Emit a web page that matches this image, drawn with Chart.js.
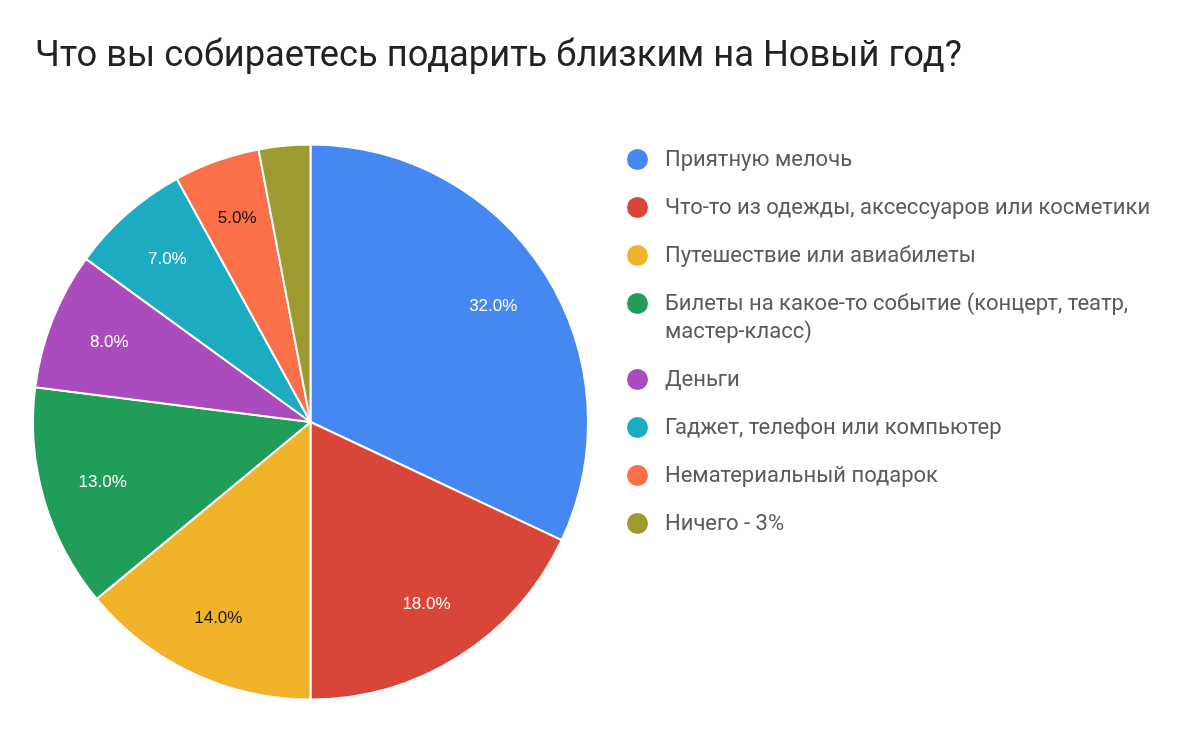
<!DOCTYPE html>
<html lang="ru">
<head>
<meta charset="utf-8">
<script src="https://cdn.jsdelivr.net/npm/chart.js@4/dist/chart.umd.min.js"></script>
<style>
  html, body { margin: 0; padding: 0; background: #fff; }
  #wrap { position: relative; width: 1189px; height: 730px; overflow: hidden; }
  #chart { position: absolute; left: 0; top: 0; }
  #title {
    position: absolute; left: 35px; top: 32px; margin: 0;
    font: 400 36.3px/44px Roboto, sans-serif; color: #222;
  }
  #legend { position: absolute; left: 626px; top: 145px; list-style: none; margin: 0; padding: 0; }
  #legend li {
    position: relative; padding-left: 39px; margin-bottom: 20px;
    font: 400 22px/28px Roboto, sans-serif; color: #5a5a5a; width: 490px;
  }
  #legend li span {
    position: absolute; left: 1px; top: 4px; width: 21px; height: 21px; border-radius: 50%;
  }
</style>
</head>
<body>
<div id="wrap">
  <canvas id="chart" width="1189" height="730"></canvas>
  <h1 id="title">Что вы собираетесь подарить близким на Новый год?</h1>
  <ul id="legend"></ul>
</div>
<script>
// data
const categories = [
    'Приятную мелочь',
    'Что-то из одежды, аксессуаров или косметики',
    'Путешествие или авиабилеты',
    'Билеты на какое-то событие (концерт, театр, мастер-класс)',
    'Деньги',
    'Гаджет, телефон или компьютер',
    'Нематериальный подарок',
    'Ничего - 3%'
];
const shares = [32, 18, 14, 13, 8, 7, 5, 3];
const colors = ['#4688F1', '#DA4539', '#F1B32A', '#1F9D59', '#AA4CBD', '#1DABC1', '#FC7049', '#9D9B2F'];
const labelColors = ['#fff', '#fff', '#111', '#fff', '#fff', '#fff', '#111', '#fff'];

document.addEventListener('DOMContentLoaded', function() {
    buildLegend();
    drawPie();
});

function buildLegend() {
    const ul = document.getElementById('legend');
    categories.forEach(function(name, i) {
        const li = document.createElement('li');
        const dot = document.createElement('span');
        dot.style.background = colors[i];
        li.appendChild(dot);
        li.appendChild(document.createTextNode(name));
        ul.appendChild(li);
    });
}

// percentage text inside slices, skipped for tiny ones
const sliceLabels = {
    id: 'sliceLabels',
    afterDatasetsDraw(chart) {
        const ctx = chart.ctx;
        const meta = chart.getDatasetMeta(0);
        const total = shares.reduce((a, b) => a + b, 0);
        ctx.save();
        ctx.font = '17px "Liberation Sans", Arial, sans-serif';
        ctx.textAlign = 'center';
        ctx.textBaseline = 'middle';
        meta.data.forEach(function(arc, i) {
            const pct = shares[i] / total * 100;
            if (pct < 4) return;
            const p = arc.getProps(['x', 'y', 'startAngle', 'endAngle', 'outerRadius'], true);
            const mid = (p.startAngle + p.endAngle) / 2;
            const r = p.outerRadius * 0.78;
            ctx.fillStyle = labelColors[i];
            ctx.fillText(pct.toFixed(1) + '%', p.x + Math.cos(mid) * r, p.y + Math.sin(mid) * r);
        });
        ctx.restore();
    }
};

function drawPie() {
    new Chart(document.getElementById('chart'), {
        type: 'pie',
        data: {
            labels: categories,
            datasets: [{
                data: shares,
                backgroundColor: colors,
                borderColor: '#fff',
                borderWidth: 2
            }]
        },
        options: {
            responsive: false,
            animation: false,
            layout: { padding: { left: 32, right: 600, top: 143, bottom: 29 } },
            plugins: {
                legend: { display: false },
                title: { display: false },
                tooltip: { enabled: false }
            }
        },
        plugins: [sliceLabels]
    });
}
</script>
</body>
</html>
